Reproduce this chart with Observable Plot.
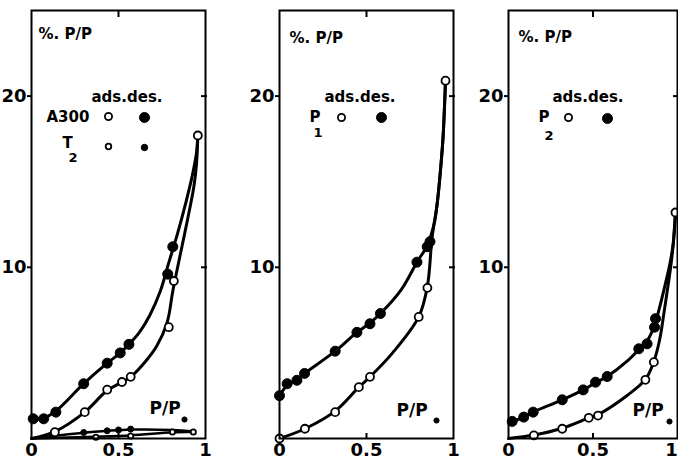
<!DOCTYPE html>
<html>
<head>
<meta charset="utf-8">
<script src="https://cdn.jsdelivr.net/npm/d3@7"></script>
<script src="https://cdn.jsdelivr.net/npm/@observablehq/plot@0.6"></script>
<style>
  html, body { margin: 0; padding: 0; background: white; }
  #chart { position: relative; width: 678px; height: 462px; background: white; overflow: hidden; }
</style>
</head>
<body>
<div id="chart"></div>
<script>
// ---- axis ticks ----
const xTicks = [0, 0.5, 1];
const xTickLabels = ["0", "0.5", "1"];
const yTicks = [10, 20];

// ---- panel 1: A300 (large markers) and T2 (small markers) ----
const a300Ads = [[0.134,0.37],[0.306,1.54],[0.435,2.85],[0.52,3.3],[0.57,3.6],[0.789,6.5],[0.818,9.2],[0.956,17.7]];
const a300Des = [[0.01,1.15],[0.07,1.15],[0.14,1.54],[0.30,3.2],[0.435,4.4],[0.51,5.0],[0.56,5.5],[0.783,9.6],[0.812,11.2]];
const a300AdsCurve = [[0,0],[0.134,0.4],[0.306,1.54],[0.435,2.8],[0.57,3.6],[0.655,4.5],[0.72,5.4],[0.78,6.8],[0.812,8.6],[0.852,10.6],[0.895,12.7],[0.933,14.7],[0.948,16.0],[0.956,17.7]];
const a300DesCurve = [[0,1.1],[0.07,1.2],[0.14,1.6],[0.30,3.2],[0.435,4.4],[0.51,5.0],[0.56,5.5],[0.62,6.2],[0.68,7.2],[0.74,8.6],[0.79,10.3],[0.84,12.0],[0.89,13.9],[0.925,15.4],[0.947,16.6],[0.956,17.7]];
const t2Ads = [[0.37,0.08],[0.57,0.15],[0.81,0.38],[0.93,0.38]];
const t2Des = [[0.30,0.35],[0.435,0.45],[0.50,0.5],[0.57,0.55]];
const t2AdsCurve = [[0,0],[0.37,0.1],[0.57,0.18],[0.81,0.36],[0.93,0.4]];
const t2DesCurve = [[0,0],[0.30,0.33],[0.57,0.52],[0.81,0.5],[0.93,0.42]];

// ---- panel 2: P1 ----
const p1Ads = [[0,0],[0.146,0.57],[0.32,1.54],[0.456,3.0],[0.52,3.6],[0.80,7.1],[0.85,8.8],[0.954,20.9]];
const p1Des = [[0,2.5],[0.044,3.2],[0.10,3.4],[0.144,3.8],[0.32,5.1],[0.445,6.2],[0.52,6.7],[0.58,7.3],[0.79,10.3],[0.849,11.2],[0.865,11.5]];
const p1AdsCurve = [[0,0],[0.146,0.57],[0.32,1.6],[0.456,3.0],[0.52,3.6],[0.65,5.0],[0.80,7.1],[0.85,8.9],[0.877,11.76],[0.906,13.7],[0.925,15.65],[0.94,17.6],[0.954,20.9]];
const p1DesCurve = [[0,2.5],[0.044,3.1],[0.10,3.45],[0.144,3.8],[0.32,5.1],[0.445,6.2],[0.52,6.75],[0.58,7.3],[0.70,8.7],[0.79,10.3],[0.85,11.3],[0.89,12.6],[0.906,13.7],[0.925,15.65],[0.94,17.6],[0.954,20.9]];

// ---- panel 3: P2 ----
const p2Ads = [[0.15,0.18],[0.318,0.57],[0.475,1.21],[0.53,1.34],[0.81,3.43],[0.86,4.46],[0.988,13.2]];
const p2Des = [[0.022,1.0],[0.09,1.25],[0.146,1.54],[0.318,2.26],[0.442,2.84],[0.515,3.29],[0.584,3.62],[0.771,5.24],[0.82,5.53],[0.864,6.5],[0.87,7.0]];
const p2AdsCurve = [[0,0],[0.15,0.2],[0.318,0.6],[0.475,1.2],[0.53,1.4],[0.70,2.5],[0.81,3.45],[0.86,4.5],[0.895,5.8],[0.919,7.28],[0.945,9.0],[0.962,10.2],[0.975,11.4],[0.988,13.2]];
const p2DesCurve = [[0,0.9],[0.09,1.25],[0.146,1.55],[0.318,2.26],[0.442,2.84],[0.515,3.25],[0.584,3.62],[0.70,4.5],[0.771,5.2],[0.82,5.7],[0.864,6.6],[0.89,7.5],[0.925,8.9],[0.955,10.2],[0.975,11.4],[0.988,13.2]];

// ---- text ----
const yLabelText = "%. P/P";
const xLabelText = "P/P";
const legendHeader = "ads.des.";

const FONT = "'DejaVu Sans', 'Liberation Sans', sans-serif";
const W = 678, H = 462, TOP = 10, BOTTOM = 438;
const fmtX = d => xTickLabels[xTicks.indexOf(d)];

function txt(s, anchor, dx, dy, size, extra = {}) {
  return Plot.text([s], {frameAnchor: anchor, dx, dy, textAnchor: "start", lineAnchor: "middle",
    fontSize: size, fontWeight: "bold", fill: "black", ...extra});
}
function legendDot(anchor, dx, dy, r, open) {
  return Plot.dot([0], {frameAnchor: anchor, dx, dy, r,
    fill: open ? "white" : "black", stroke: "black", strokeWidth: open ? 1.8 : 1});
}

function panel(left, right, content, lastLabelShift = 0) {
  const xLabelMarks = lastLabelShift
    ? [Plot.axisX({anchor: "bottom", ticks: xTicks.slice(0, -1), tickSize: 0, tickPadding: 5, fontSize: 18, fontWeight: "bold", label: null, tickFormat: fmtX}),
       Plot.axisX({anchor: "bottom", ticks: xTicks.slice(-1), tickSize: 0, tickPadding: 5, fontSize: 18, fontWeight: "bold", label: null, tickFormat: fmtX, dx: lastLabelShift})]
    : [Plot.axisX({anchor: "bottom", ticks: xTicks, tickSize: 0, tickPadding: 5, fontSize: 18, fontWeight: "bold", label: null, tickFormat: fmtX})];
  return Plot.plot({
    width: W, height: H,
    marginLeft: left, marginRight: W - right, marginTop: TOP, marginBottom: H - BOTTOM,
    x: {domain: [0, 1]},
    y: {domain: [0, 25]},
    style: {position: "absolute", left: "0px", top: "0px", background: "transparent",
            fontFamily: FONT, color: "black", overflow: "visible"},
    marks: [
      Plot.axisY({anchor: "left", ticks: yTicks, tickSize: 4, tickPadding: 1, fontSize: 18, fontWeight: "bold", label: null, strokeWidth: 2}),
      Plot.axisY({anchor: "right", ticks: yTicks, tickSize: 6, dx: -5, tickFormat: () => "", label: null, strokeWidth: 2}),
      ...xLabelMarks,
      Plot.axisX({anchor: "bottom", ticks: [0.5], tickSize: 5, dy: -5, tickFormat: () => "", label: null, strokeWidth: 2}),
      Plot.axisX({anchor: "top", ticks: [0.5], tickSize: 6, dy: 6, tickFormat: () => "", label: null, strokeWidth: 2}),
      ...content,
      Plot.frame({stroke: "black", strokeWidth: 2})
    ]
  });
}

function curve(data, sw = 3) {
  return Plot.line(data, {x: d => d[0], y: d => d[1], curve: "catmull-rom", stroke: "black", strokeWidth: sw, strokeLinecap: "round"});
}
function openDots(data, r = 4) {
  return Plot.dot(data, {x: d => d[0], y: d => d[1], r, fill: "white", stroke: "black", strokeWidth: 1.8});
}
function fillDots(data, r = 5) {
  return Plot.dot(data, {x: d => d[0], y: d => d[1], r, fill: "black", stroke: "black", strokeWidth: 1});
}

const chart = document.getElementById("chart");

// Panel 1
chart.appendChild(panel(31, 205, [
  curve(a300AdsCurve), curve(a300DesCurve),
  curve(t2AdsCurve, 2.5), curve(t2DesCurve, 2.5),
  openDots(a300Ads), fillDots(a300Des),
  openDots(t2Ads, 2.6), fillDots(t2Des, 3),
  txt(yLabelText, "top-left", 7, 24, 15),
  txt(legendHeader, "top-left", 60, 87, 15),
  txt("A300", "top-left", 15, 107, 15),
  legendDot("top-left", 77, 106, 3.6, true),
  legendDot("top-left", 113, 107, 5, false),
  txt("T", "top-left", 31, 133, 15),
  txt("2", "top-left", 37, 147, 13),
  legendDot("top-left", 77, 136, 2.8, true),
  legendDot("top-left", 113, 137, 3.2, false),
  txt(xLabelText, "bottom-left", 118, -30, 17),
  legendDot("bottom-left", 153, -19, 2.6, false)
]));

// Panel 2
chart.appendChild(panel(279, 453, [
  curve(p1AdsCurve), curve(p1DesCurve),
  openDots(p1Ads), fillDots(p1Des),
  txt(yLabelText, "top-left", 10, 28, 15),
  txt(legendHeader, "top-left", 45, 87, 15),
  txt("P", "top-left", 30, 107, 15),
  txt("1", "top-left", 34, 122, 13),
  legendDot("top-left", 62, 107, 3.6, true),
  legendDot("top-left", 102, 107, 5, false),
  txt(xLabelText, "bottom-left", 117, -28, 17),
  legendDot("bottom-left", 157, -18, 2.6, false)
]));

// Panel 3
chart.appendChild(panel(508, 677, [
  curve(p2AdsCurve), curve(p2DesCurve),
  openDots(p2Ads), fillDots(p2Des),
  txt(yLabelText, "top-left", 10, 27, 15),
  txt(legendHeader, "top-left", 44, 87, 15),
  txt("P", "top-left", 30, 107, 15),
  txt("2", "top-left", 36, 125, 13),
  legendDot("top-left", 60, 107, 3.6, true),
  legendDot("top-left", 99, 108, 5, false),
  txt(xLabelText, "bottom-left", 124, -28, 17),
  legendDot("bottom-left", 161, -17, 2.6, false)
], -6));
</script>
</body>
</html>
